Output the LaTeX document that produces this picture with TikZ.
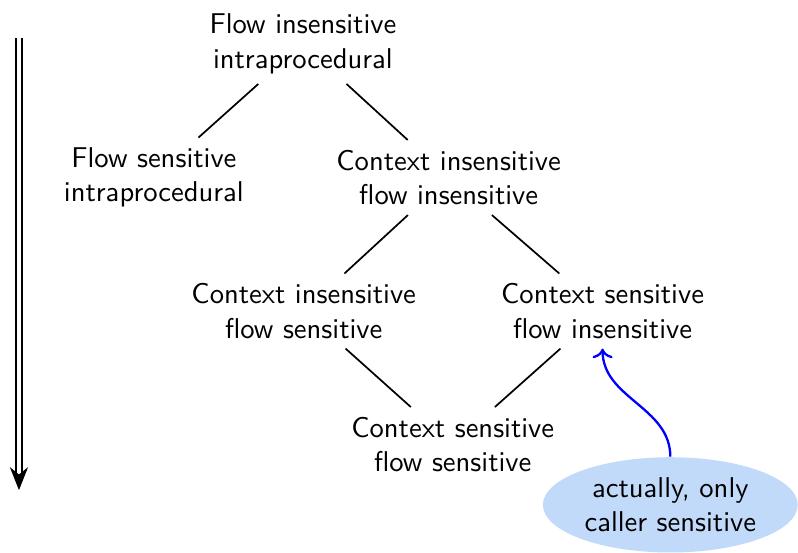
\documentclass[tikz,border=0pt]{standalone}
\usepackage{tikz}
\usetikzlibrary{shapes.geometric,arrows.meta}
\definecolor{remarkblue}{RGB}{194,218,250}
\tikzstyle{analysis} = [align=center]
\tikzstyle{remark} = [ellipse, fill=remarkblue, inner sep=0pt, minimum width=3.13cm, minimum height=1.17cm, align=center]

\begin{document}
\begin{tikzpicture}[auto, node distance=1.64cm,>={Stealth[length=8pt, width=6.3pt, inset=2.5pt]}]
    \tikzset{font={\sffamily}}
    \useasboundingbox (0,0) rectangle (9.80,-6.78);
    \node [analysis] (fiip) at (3.72,-0.54) {Flow insensitive\\ intraprocedural};
    \node [analysis, below of=fiip, xshift=-1.83cm] (fsip) {Flow sensitive\\ intraprocedural};
    \node [analysis, below of=fiip, xshift=1.79cm] (cifi) {Context insensitive\\ flow insensitive};
    \node [analysis, below of=cifi, xshift=-1.78cm] (cifs) {Context insensitive\\ flow sensitive};
    \node [analysis, below of=cifi, xshift=1.89cm] (csfi) {Context sensitive\\ flow insensitive};
    \node [analysis, below of=cifs, xshift=1.83cm] (csfs) {Context sensitive\\ flow sensitive};
    \node [remark, below of=csfs, node distance=0.74cm, xshift=2.672cm] (caller) {actually, only\\ caller sensitive};

    \draw [semithick] (fiip) -- (fsip);
    \draw [semithick] (fiip) -- (cifi);
    \draw [semithick] (cifi) -- (cifs);
    \draw [semithick] (cifi) -- (csfi);
    \draw [semithick] (cifs) -- (csfs);
    \draw [semithick] (csfi) -- (csfs);

    % note on the context sensitive analysis
    \draw [->, >={To}, blue, thick] (caller.north) to[out=90, in=-90] (csfi.south);

    % precision grows downwards
    \coordinate (coarse) at (0.233,-0.467);
    \coordinate (fine) at (0.233,-6.02);
    \draw [semithick, double, double distance=1.6pt, ->] (coarse) -- (fine);
\end{tikzpicture}
\end{document}
